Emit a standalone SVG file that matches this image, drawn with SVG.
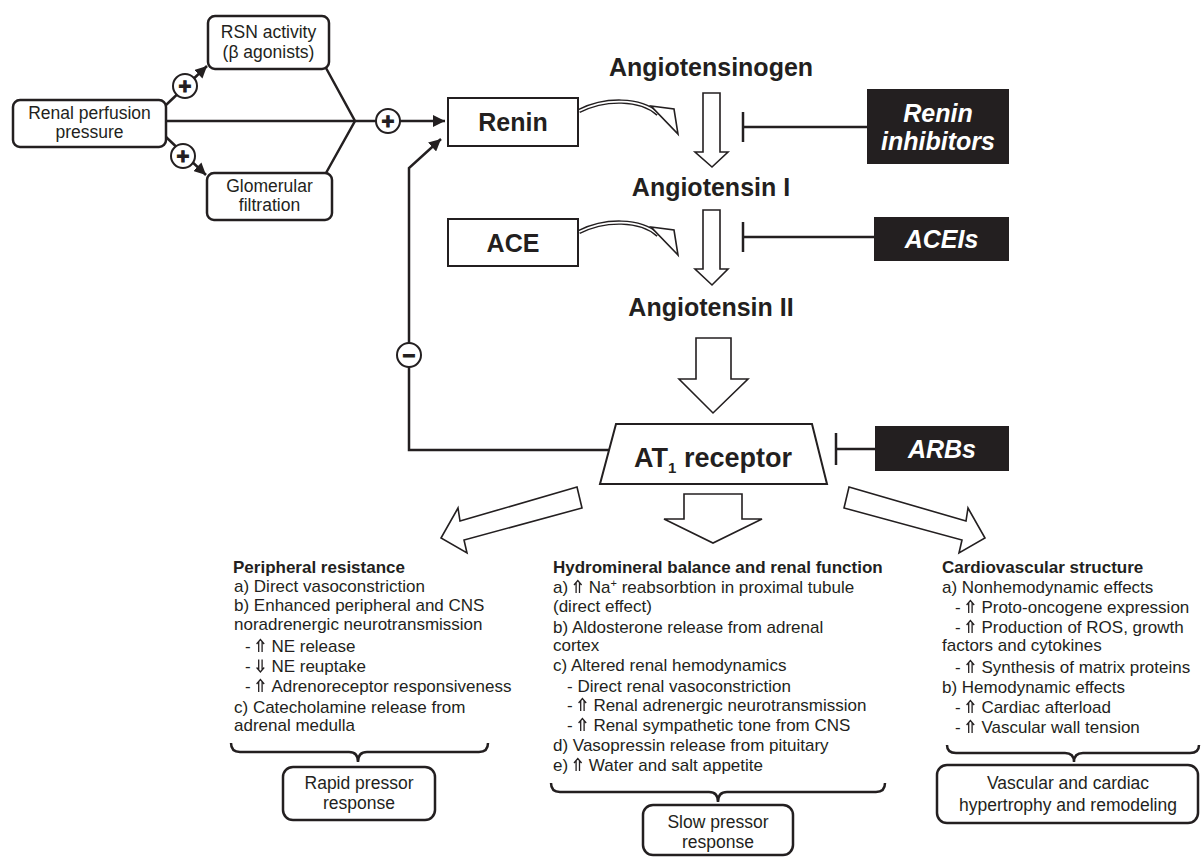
<svg xmlns="http://www.w3.org/2000/svg" width="1201" height="857" viewBox="0 0 1201 857">
<style>
.t{font-family:"Liberation Sans",Arial,"DejaVu Sans",sans-serif;fill:#231f20}
.big{font-size:25px;font-weight:bold;text-anchor:middle}
.sm{font-size:17.5px;text-anchor:middle}
.body{font-size:17px}
.hd{font-size:17px;font-weight:bold}
.box{fill:#fff;stroke:#231f20;stroke-width:2.5}
.sq{fill:#fff;stroke:#231f20;stroke-width:2}
.blk{fill:#231f20}
.inht{font-family:"Liberation Sans",Arial,sans-serif;fill:#fff;font-size:25px;font-weight:bold;font-style:italic;text-anchor:middle}
.ln{stroke:#231f20;stroke-width:2.5;fill:none}
.hol{fill:#fff;stroke:#231f20;stroke-width:1.6;stroke-linejoin:miter}
.sign{font-family:"Liberation Sans",Arial,sans-serif;font-size:22px;font-weight:bold;fill:#231f20;stroke:#231f20;stroke-width:1;text-anchor:middle}
.circ{fill:#fff;stroke:#231f20;stroke-width:2}
.bandO{fill:none;stroke:#231f20;stroke-width:4.5}
.bandI{fill:none;stroke:#fff;stroke-width:1.6}
.sym{fill:none;stroke:#231f20;stroke-width:1.3}
</style>
<defs>
<marker id="ah" markerUnits="userSpaceOnUse" markerWidth="14" markerHeight="12" refX="12" refY="6" orient="auto">
<path d="M0,0 L12,6 L0,12 z" fill="#231f20"/>
</marker>
<path id="up" class="sym" d="M-1.7,0 V-10 M1.7,0 V-10 M-3.8,-8 L0,-12.5 L3.8,-8"/>
<path id="dn" class="sym" d="M-1.7,-12.5 V-2.5 M1.7,-12.5 V-2.5 M-3.8,-4.5 L0,0 L3.8,-4.5"/>
</defs>

<g id="connectors">
<line class="ln" x1="166" y1="105" x2="207" y2="66" marker-end="url(#ah)"/>
<line class="ln" x1="166" y1="137" x2="206" y2="175" marker-end="url(#ah)"/>
<line class="ln" x1="166" y1="121" x2="355" y2="121"/>
<polyline class="ln" points="326,68 355,121 326,173"/>
<line class="ln" x1="355" y1="121" x2="445" y2="121" marker-end="url(#ah)"/>
<polyline class="ln" points="609,450 409,450 409,168 441,139" marker-end="url(#ah)"/>
<line class="ln" x1="743" y1="112" x2="743" y2="142"/>
<line class="ln" x1="743" y1="127" x2="867" y2="127"/>
<line class="ln" x1="743" y1="222" x2="743" y2="252"/>
<line class="ln" x1="743" y1="237" x2="874" y2="237"/>
<line class="ln" x1="836" y1="433" x2="836" y2="465"/>
<line class="ln" x1="836" y1="449" x2="875" y2="449"/>
<path class="bandO" d="M579,111 C605,98 640,98 658,114"/>
<path class="bandI" d="M579,111 C605,98 640,98 658,114"/>
<polygon class="hol" points="651,106 674,109 678,134"/>
<path class="bandO" d="M579,232 C605,219 640,219 658,235"/>
<path class="bandI" d="M579,232 C605,219 640,219 658,235"/>
<polygon class="hol" points="651,227 674,230 678,255"/>
<polygon class="hol" points="703,93 720,93 720,152 728,152 712,167 695,152 703,152"/>
<polygon class="hol" points="703,210 720,210 720,269 728,269 712,285 695,269 703,269"/>
<polygon class="hol" points="696,338 731,338 731,379 748,379 713,413 679,379 696,379"/>
<polygon class="hol" points="577,487 460,521 458,508 441,538 467,553 464,540 582,508"/>
<polygon class="hol" points="684,494 742,494 742,519 762,519 713,543 664,519 684,519"/>
<polygon class="hol" points="849,487 966,521 968,508 985,538 959,553 962,540 844,508"/>
<path class="ln" d="M231,743 Q231,752 240,752 H349 Q358,752 358,762 Q358,752 367,752 H479 Q488,752 488,743"/>
<path class="ln" d="M551,783 Q551,792 560,792 H709 Q718,792 718,802 Q718,792 727,792 H876 Q885,792 885,783"/>
<path class="ln" d="M947,745 Q947,753 956,753 H1065 Q1074,753 1074,762 Q1074,753 1083,753 H1190 Q1199,753 1199,745"/>
<circle class="circ" cx="185" cy="86" r="12"/>
<text class="sign" x="185" y="94">+</text>
<circle class="circ" cx="183" cy="156" r="12"/>
<text class="sign" x="183" y="164">+</text>
<circle class="circ" cx="388" cy="121" r="12"/>
<text class="sign" x="388" y="129">+</text>
<circle class="circ" cx="409" cy="355" r="12"/>
<text class="sign" x="409" y="363">−</text>
</g>

<g id="n-renal">
<rect class="box" x="13" y="100" width="153" height="47" rx="7"/>
<text class="t sm" x="89.5" y="119">Renal perfusion</text>
<text class="t sm" x="89.5" y="138">pressure</text>
</g>
<g id="n-rsn">
<rect class="box" x="208" y="16" width="121" height="53" rx="7"/>
<text class="t sm" x="268.5" y="38">RSN activity</text>
<text class="t sm" x="268.5" y="58">(β agonists)</text>
</g>
<g id="n-glom">
<rect class="box" x="207" y="173" width="125" height="47" rx="7"/>
<text class="t sm" x="269.5" y="192">Glomerular</text>
<text class="t sm" x="269.5" y="211">filtration</text>
</g>
<g id="n-renin">
<rect class="sq" x="448" y="98" width="130" height="48"/>
<text class="t big" x="513" y="131">Renin</text>
</g>
<g id="n-ace">
<rect class="sq" x="448" y="219" width="130" height="47"/>
<text class="t big" x="513" y="252">ACE</text>
</g>
<g id="n-agtgen"><text class="t big" x="711" y="76">Angiotensinogen</text></g>
<g id="n-ang1"><text class="t big" x="711" y="196">Angiotensin I</text></g>
<g id="n-ang2"><text class="t big" x="711" y="316">Angiotensin II</text></g>
<g id="n-at1">
<polygon class="sq" points="616,424 812,424 827,484 600,484"/>
<text class="t" x="713" y="467" style="font-size:27px;font-weight:bold;text-anchor:middle">AT<tspan font-size="15" dy="6">1</tspan><tspan dy="-6"> receptor</tspan></text>
</g>
<g id="n-renin-inh">
<rect class="blk" x="867" y="89" width="142" height="75"/>
<text class="inht" x="938" y="122">Renin</text>
<text class="inht" x="938" y="150">inhibitors</text>
</g>
<g id="n-acei">
<rect class="blk" x="874" y="217" width="135" height="44"/>
<text class="inht" x="941.5" y="248">ACEIs</text>
</g>
<g id="n-arb">
<rect class="blk" x="875" y="426" width="134" height="45"/>
<text class="inht" x="942" y="458">ARBs</text>
</g>

<g id="n-periph" class="t body">
<text class="hd" x="233" y="573">Peripheral resistance</text>
<text x="234" y="592">a) Direct vasoconstriction</text>
<text x="234" y="611">b) Enhanced peripheral and CNS</text>
<text x="234" y="630">noradrenergic neurotransmission</text>
<text x="245" y="652">-</text><use href="#up" x="260.4" y="652"/><text x="271.4" y="652">NE release</text>
<text x="245" y="672">-</text><use href="#dn" x="260.4" y="672"/><text x="271.4" y="672">NE reuptake</text>
<text x="245" y="692">-</text><use href="#up" x="260.4" y="692"/><text x="271.4" y="692">Adrenoreceptor responsiveness</text>
<text x="234" y="713">c) Catecholamine release from</text>
<text x="234" y="731">adrenal medulla</text>
</g>
<g id="n-hydro" class="t body">
<text class="hd" x="553" y="573">Hydromineral balance and renal function</text>
<text x="553" y="593">a)</text><use href="#up" x="577.8" y="593"/><text x="588.8" y="593">Na<tspan font-size="11" dy="-6">+</tspan><tspan dy="6"> reabsorbtion in proximal tubule</tspan></text>
<text x="553" y="612">(direct effect)</text>
<text x="553" y="633">b) Aldosterone release from adrenal</text>
<text x="553" y="651">cortex</text>
<text x="553" y="671">c) Altered renal hemodynamics</text>
<text x="567" y="692">- Direct renal vasoconstriction</text>
<text x="567" y="711">-</text><use href="#up" x="582.4" y="711"/><text x="593.4" y="711">Renal adrenergic neurotransmission</text>
<text x="567" y="731">-</text><use href="#up" x="582.4" y="731"/><text x="593.4" y="731">Renal sympathetic tone from CNS</text>
<text x="553" y="751">d) Vasopressin release from pituitary</text>
<text x="553" y="771">e)</text><use href="#up" x="577.8" y="771"/><text x="588.8" y="771">Water and salt appetite</text>
</g>
<g id="n-cardio" class="t body">
<text class="hd" x="942" y="573">Cardiovascular structure</text>
<text x="942" y="593">a) Nonhemodynamic effects</text>
<text x="955" y="613">-</text><use href="#up" x="970.4" y="613"/><text x="981.4" y="613">Proto-oncogene expression</text>
<text x="955" y="633">-</text><use href="#up" x="970.4" y="633"/><text x="981.4" y="633">Production of ROS, growth</text>
<text x="942" y="651">factors and cytokines</text>
<text x="955" y="673">-</text><use href="#up" x="970.4" y="673"/><text x="981.4" y="673">Synthesis of matrix proteins</text>
<text x="942" y="693">b) Hemodynamic effects</text>
<text x="955" y="713">-</text><use href="#up" x="970.4" y="713"/><text x="981.4" y="713">Cardiac afterload</text>
<text x="955" y="733">-</text><use href="#up" x="970.4" y="733"/><text x="981.4" y="733">Vascular wall tension</text>
</g>

<g id="n-rapid">
<rect class="box" x="283" y="767" width="152" height="53" rx="10"/>
<text class="t sm" x="359" y="789">Rapid pressor</text>
<text class="t sm" x="359" y="809">response</text>
</g>
<g id="n-slow">
<rect class="box" x="643" y="805" width="150" height="50" rx="10"/>
<text class="t sm" x="718" y="828">Slow pressor</text>
<text class="t sm" x="718" y="848">response</text>
</g>
<g id="n-vasc">
<rect class="box" x="937" y="765" width="261" height="58" rx="10"/>
<text class="t sm" x="1068" y="789">Vascular and cardiac</text>
<text class="t sm" x="1068" y="811">hypertrophy and remodeling</text>
</g>
</svg>
